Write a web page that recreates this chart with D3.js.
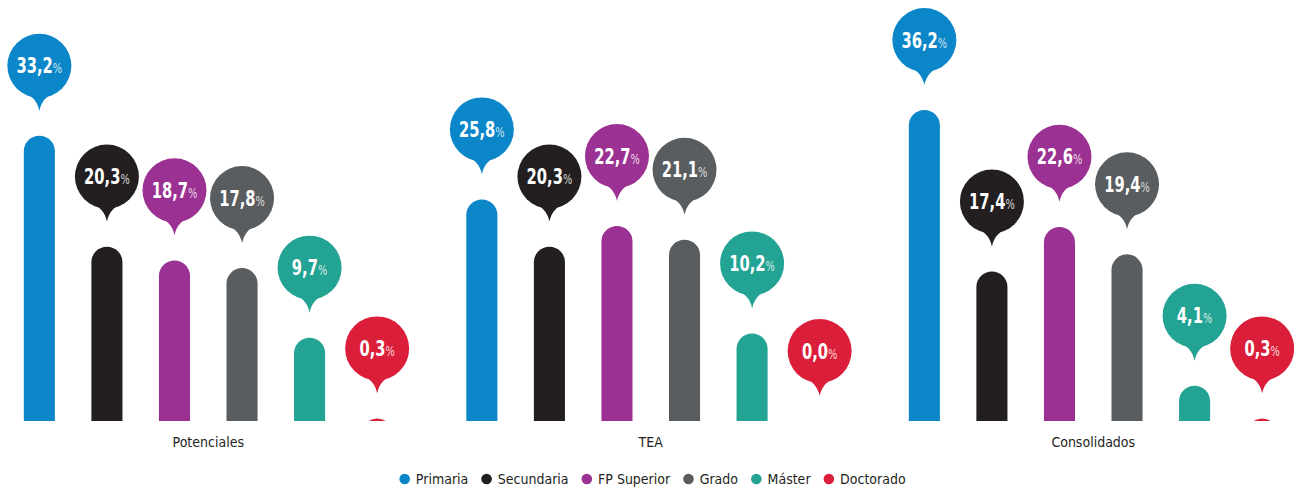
<!DOCTYPE html>
<html>
<head>
<meta charset="utf-8">
<title>Niveles de estudios</title>
<script src="https://d3js.org/d3.v7.min.js"></script>
<style>
  body { margin: 0; background: #fff; }
</style>
</head>
<body>
<div id="chart"></div>
<script>
// ---- data ----
const groups = ["Potenciales", "TEA", "Consolidados"];
const series = ["Primaria", "Secundaria", "FP Superior", "Grado", "Máster", "Doctorado"];
const colors = ["#0a86c9", "#231f20", "#9b3192", "#595d60", "#23a393", "#db1f3b"];
const potenciales = [33.2, 20.3, 18.7, 17.8, 9.7, 0.3];
const tea = [25.8, 20.3, 22.7, 21.1, 10.2, 0.0];
const consolidados = [36.2, 17.4, 22.6, 19.4, 4.1, 0.3];
const values = [potenciales, tea, consolidados];

const width = 1294, height = 488;
const base = 421;
const br = 32;      // bubble radius

const svg = d3.select("#chart").append("svg")
  .attr("width", width).attr("height", height);

// pick a narrow font if one is installed
const probe = svg.append("text").attr("font-size", 40).text("Primaria 33,2");
function widthOf(f) { probe.attr("font-family", f); return probe.node().getComputedTextLength(); }
const mono = widthOf("monospace");
const font = ["Liberation Sans Narrow", "DejaVu Sans Condensed", "Noto Sans"]
  .find(f => widthOf(`"${f}", monospace`) !== mono) || "sans-serif";
probe.remove();
svg.style("font-family", `"${font}", sans-serif`);

svg.append("clipPath").attr("id", "base")
  .append("rect").attr("x", 0).attr("y", 0).attr("width", width).attr("height", base);

const color = d3.scaleOrdinal().domain(series).range(colors);

const x0 = d3.scaleBand().domain(groups).range([-13, 1314.5]).paddingInner(0).paddingOuter(0);
const x1 = d3.scaleBand().domain(series).range([0, x0.bandwidth()])
  .paddingInner(0.54).paddingOuter(0.545);
const y = d3.scaleLinear().domain([0, 40]).range([base, 77.4]);

const fmt = v => d3.format(".1f")(v).replace(".", ",");

const data = groups.map((g, gi) => ({
  group: g,
  items: series.map((s, si) => ({ group: g, key: s, value: values[gi][si] }))
}));

const g = svg.selectAll("g.group").data(data).enter().append("g")
  .attr("class", "group")
  .attr("transform", d => `translate(${x0(d.group)},0)`);

// bars with rounded tops
g.append("g").attr("clip-path", "url(#base)")
  .selectAll("path").data(d => d.items).enter().append("path")
  .attr("fill", d => color(d.key))
  .attr("d", d => {
    const x = x1(d.key), w = x1.bandwidth(), top = y(d.value);
    const rr = w / 2;
    const bot = Math.max(base, top + rr);
    return `M${x},${bot}V${top + rr}A${rr},${rr} 0 0 1 ${x + w},${top + rr}V${bot}Z`;
  });

// bubbles
const bub = g.selectAll("g.bubble").data(d => d.items).enter().append("g")
  .attr("class", "bubble")
  .attr("transform", d => `translate(${x1(d.key) + x1.bandwidth() / 2},${y(d.value) - 26 - 44})`);

bub.append("circle").attr("r", br).attr("fill", d => color(d.key));
bub.append("path").attr("fill", d => color(d.key))
  .attr("d", "M-18,26.4Q-3,30 0,45Q3,30 18,26.4Z");

const lbl = bub.append("text").attr("text-anchor", "middle")
  .attr("transform", "translate(0,7.5) scale(0.78,1)").attr("fill", "#fff");
lbl.append("tspan").attr("font-size", 21).attr("font-weight", 700).text(d => fmt(d.value));
lbl.append("tspan").attr("font-size", 14).attr("font-weight", 400).attr("fill-opacity", 0.8).text("%");

// group labels
svg.append("g").selectAll("text").data(groups).enter().append("text")
  .attr("x", d => x0(d) + x0.bandwidth() / 2)
  .attr("y", 447)
  .attr("text-anchor", "middle")
  .attr("font-size", 14)
  .attr("fill", "#231f20")
  .text(d => d);

// legend
const leg = svg.append("g");
let lx = 0;
series.forEach(s => {
  const it = leg.append("g").attr("transform", `translate(${lx},0)`);
  it.append("circle").attr("cx", 5.3).attr("cy", 0).attr("r", 5.3).attr("fill", color(s));
  const t = it.append("text").attr("x", 16.5).attr("y", 5).attr("font-size", 14)
    .attr("fill", "#231f20").text(s);
  lx += 16.5 + t.node().getComputedTextLength() + 13;
});
lx -= 13;
leg.attr("transform", `translate(${652.5 - lx / 2},479)`);
</script>
</body>
</html>
